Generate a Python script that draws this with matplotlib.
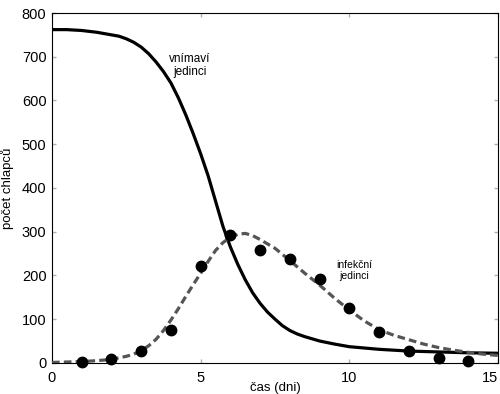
import numpy as np
import matplotlib
matplotlib.use("Agg")
import matplotlib.pyplot as plt

plt.rcParams['font.family'] = ['Liberation Sans', 'DejaVu Sans']

# hodnoty
t_s = [0, 0.5, 1, 1.5, 2, 2.25, 2.5, 2.75, 3, 3.25, 3.5, 3.75, 4, 4.25, 4.5, 4.75,
       5, 5.25, 5.5, 5.75, 6, 6.25, 6.5, 6.75, 7, 7.25, 7.5, 7.75, 8, 8.25, 8.5,
       8.75, 9, 9.5, 10, 10.5, 11, 12, 13, 14, 15]
vnimavi = [762, 762, 760, 756, 750, 747, 741, 733, 722, 707, 688, 666, 640, 606,
           567, 524, 478, 428, 370, 312, 265, 225, 190, 160, 136, 116, 100, 85, 74,
           66, 60, 55, 50, 43, 37, 34, 31, 27, 25, 23, 22]

t_i = [0, 0.5, 1, 1.5, 2, 2.5, 2.75, 3, 3.25, 3.5, 3.75, 4, 4.25, 4.5, 4.75, 5,
       5.25, 5.5, 5.75, 6, 6.25, 6.5, 6.75, 7, 7.5, 8, 8.5, 9, 9.5, 10, 10.5, 11,
       11.5, 12, 12.5, 13, 13.5, 14, 14.5, 15]
infekcni = [1, 2, 3, 5, 8, 15, 20, 28, 39, 54, 74, 98, 124, 152, 179, 205, 232,
            257, 275, 287, 294, 296, 291, 282, 262, 234, 205, 178, 148, 121, 96, 76,
            63, 53, 43, 35, 29, 24, 20, 17]

dny = [1, 2, 3, 4, 5, 6, 7, 8, 9, 10, 11, 12, 13, 14]
pozorovani = [3, 8, 28, 76, 222, 293, 257, 237, 192, 126, 70, 28, 12, 5]

fig = plt.figure(figsize=(5, 3.94), dpi=100)
ax = fig.add_axes([0.104, 0.079, 0.892, 0.888])

ax.plot(t_s, vnimavi, color='black', lw=2.3, zorder=2)
ax.plot(t_i, infekcni, color='#555555', lw=2.3, dashes=(2.4, 1.3), zorder=3)
ax.plot(dny, pozorovani, 'o', color='black', ms=7.5, zorder=4, clip_on=False)

ax.set_xlim(0, 15)
ax.set_ylim(0, 800)
ax.set_xticks([0, 5, 10, 15])
ax.set_yticks(np.arange(0, 801, 100))
ax.tick_params(direction='in', length=3, width=1, color='#b0b0b0',
               top=True, right=True, labelsize=10.5)
ax.tick_params(axis='x', pad=6)
ax.tick_params(axis='y', pad=4)
for s in ax.spines.values():
    s.set_linewidth(0.8)

# posledni popisek "15" by byl oriznuty
fig.canvas.draw()
ax.get_xticklabels()[-1].set_horizontalalignment('right')

ax.set_xlabel('čas (dni)', fontsize=9.5)
ax.set_ylabel('počet chlapců', fontsize=9.5)
ax.xaxis.set_label_coords(0.5, -0.055)
ax.yaxis.set_label_coords(-0.085, 0.5)

ax.text(4.64, 679, 'vnímaví\njedinci', fontsize=8.5, ha='center', va='center',
        linespacing=1.1)
ax.text(10.16, 212, 'infekční\njedinci', fontsize=7.5, ha='center', va='center',
        linespacing=1.1)

fig.savefig('out.png', dpi=100)
